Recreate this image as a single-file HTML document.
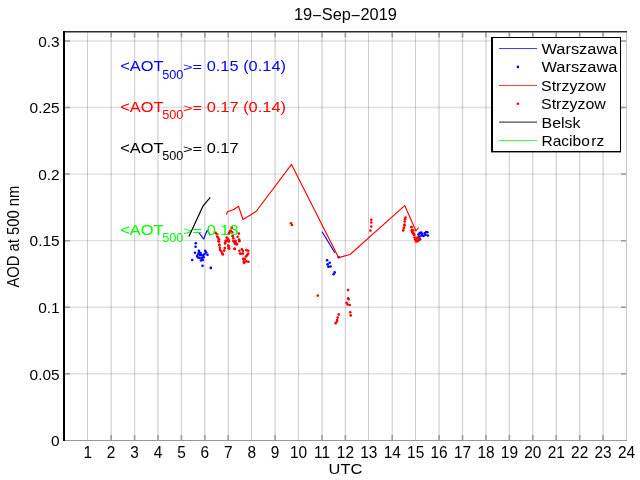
<!DOCTYPE html><html><head><meta charset="utf-8"><style>html,body{margin:0;padding:0;background:#fff;width:640px;height:480px;overflow:hidden}svg{display:block;will-change:transform}text{font-family:"Liberation Sans",sans-serif}</style></head><body>
<svg width="640" height="480" viewBox="0 0 640 480">
<rect width="640" height="480" fill="#fff"/>
<path d="M111.15 32.5V440 M134.57 32.5V440 M158.00 32.5V440 M181.43 32.5V440 M204.85 32.5V440 M228.27 32.5V440 M275.12 32.5V440 M321.98 32.5V440 M345.40 32.5V440 M392.25 32.5V440 M439.10 32.5V440 M462.53 32.5V440 M485.95 32.5V440 M509.38 32.5V440 M532.80 32.5V440 M556.23 32.5V440 M579.65 32.5V440 M603.07 32.5V440" stroke="rgba(0,0,0,0.16)" stroke-width="1.4" fill="none"/>
<rect x="87" y="32" width="1" height="408" fill="rgba(0,0,0,0.2)"/><rect x="251" y="32" width="1" height="408" fill="rgba(0,0,0,0.2)"/><rect x="298" y="32" width="1" height="408" fill="rgba(0,0,0,0.2)"/><rect x="368" y="32" width="1" height="408" fill="rgba(0,0,0,0.2)"/><rect x="415" y="32" width="1" height="408" fill="rgba(0,0,0,0.2)"/>
<path d="M65 373.75H626 M65 307.20H626 M65 240.65H626 M65 174.10H626 M65 107.55H626 M65 41.00H626" stroke="rgba(0,0,0,0.125)" stroke-width="1.4" fill="none"/>
<path d="M111.15 435V440 M111.15 32.5V37.5 M134.57 435V440 M134.57 32.5V37.5 M158.00 435V440 M158.00 32.5V37.5 M181.43 435V440 M181.43 32.5V37.5 M204.85 435V440 M204.85 32.5V37.5 M228.27 435V440 M228.27 32.5V37.5 M275.12 435V440 M275.12 32.5V37.5 M321.98 435V440 M321.98 32.5V37.5 M345.40 435V440 M345.40 32.5V37.5 M392.25 435V440 M392.25 32.5V37.5 M439.10 435V440 M439.10 32.5V37.5 M462.53 435V440 M462.53 32.5V37.5 M485.95 435V440 M485.95 32.5V37.5 M509.38 435V440 M509.38 32.5V37.5 M532.80 435V440 M532.80 32.5V37.5 M556.23 435V440 M556.23 32.5V37.5 M579.65 435V440 M579.65 32.5V37.5 M603.07 435V440 M603.07 32.5V37.5 M65 373.75H70 M621 373.75H626 M65 307.20H70 M621 307.20H626 M65 240.65H70 M621 240.65H626 M65 174.10H70 M621 174.10H626 M65 107.55H70 M621 107.55H626 M65 41.00H70 M621 41.00H626" stroke="#9a9a9a" stroke-width="1.5" fill="none"/>
<rect x="65" y="440" width="562" height="1" fill="#999"/>
<rect x="626" y="32" width="1" height="408" fill="#c4c4c4"/>
<path d="M63 31.75H627" stroke="#2e2e2e" stroke-width="1.5"/>
<rect x="63" y="31" width="2" height="410" fill="#000"/>
<g font-size="16" fill="#000"><text transform="translate(87.72 458.00) scale(0.965 0.98)" font-size="16" text-anchor="middle">1</text><text transform="translate(111.15 458.00) scale(0.965 0.98)" font-size="16" text-anchor="middle">2</text><text transform="translate(134.57 458.00) scale(0.965 0.98)" font-size="16" text-anchor="middle">3</text><text transform="translate(158.00 458.00) scale(0.965 0.98)" font-size="16" text-anchor="middle">4</text><text transform="translate(181.43 458.00) scale(0.965 0.98)" font-size="16" text-anchor="middle">5</text><text transform="translate(204.85 458.00) scale(0.965 0.98)" font-size="16" text-anchor="middle">6</text><text transform="translate(228.27 458.00) scale(0.965 0.98)" font-size="16" text-anchor="middle">7</text><text transform="translate(251.70 458.00) scale(0.965 0.98)" font-size="16" text-anchor="middle">8</text><text transform="translate(275.12 458.00) scale(0.965 0.98)" font-size="16" text-anchor="middle">9</text><text transform="translate(298.55 458.00) scale(0.965 0.98)" font-size="16" text-anchor="middle">10</text><text transform="translate(321.98 458.00) scale(0.965 0.98)" font-size="16" text-anchor="middle">11</text><text transform="translate(345.40 458.00) scale(0.965 0.98)" font-size="16" text-anchor="middle">12</text><text transform="translate(368.83 458.00) scale(0.965 0.98)" font-size="16" text-anchor="middle">13</text><text transform="translate(392.25 458.00) scale(0.965 0.98)" font-size="16" text-anchor="middle">14</text><text transform="translate(415.68 458.00) scale(0.965 0.98)" font-size="16" text-anchor="middle">15</text><text transform="translate(439.10 458.00) scale(0.965 0.98)" font-size="16" text-anchor="middle">16</text><text transform="translate(462.53 458.00) scale(0.965 0.98)" font-size="16" text-anchor="middle">17</text><text transform="translate(485.95 458.00) scale(0.965 0.98)" font-size="16" text-anchor="middle">18</text><text transform="translate(509.38 458.00) scale(0.965 0.98)" font-size="16" text-anchor="middle">19</text><text transform="translate(532.80 458.00) scale(0.965 0.98)" font-size="16" text-anchor="middle">20</text><text transform="translate(556.23 458.00) scale(0.965 0.98)" font-size="16" text-anchor="middle">21</text><text transform="translate(579.65 458.00) scale(0.965 0.98)" font-size="16" text-anchor="middle">22</text><text transform="translate(603.07 458.00) scale(0.965 0.98)" font-size="16" text-anchor="middle">23</text><text transform="translate(626.50 458.00) scale(0.965 0.98)" font-size="16" text-anchor="middle">24</text><text transform="translate(59.60 446.05) scale(0.965 0.96)" font-size="16" text-anchor="end">0</text><text transform="translate(59.60 379.50) scale(0.965 0.96)" font-size="16" text-anchor="end">0.05</text><text transform="translate(59.60 312.95) scale(0.965 0.96)" font-size="16" text-anchor="end">0.1</text><text transform="translate(59.60 246.40) scale(0.965 0.96)" font-size="16" text-anchor="end">0.15</text><text transform="translate(59.60 179.85) scale(0.965 0.96)" font-size="16" text-anchor="end">0.2</text><text transform="translate(59.60 113.30) scale(0.965 0.96)" font-size="16" text-anchor="end">0.25</text><text transform="translate(59.60 46.75) scale(0.965 0.96)" font-size="16" text-anchor="end">0.3</text></g>
<text transform="translate(345.40 20.00) scale(1.025 1.0)" font-size="16" text-anchor="middle">19<tspan dy="1.1">−</tspan><tspan dy="-1.1">Sep</tspan><tspan dy="1.1">−</tspan><tspan dy="-1.1">2019</tspan></text>
<text transform="translate(345.40 474.00) scale(1.025 0.95)" font-size="16" text-anchor="middle">UTC</text>
<text transform="translate(18.9 236.6) rotate(-90) scale(0.925 1.06)" font-size="16" text-anchor="middle">AOD at 500 nm</text>
<path d="M199.20 233.20 L203.60 239.00 L207.20 230.30 L210.40 235.30 M322.10 231.70 L335.00 253.00" stroke="#0000ff" stroke-width="1.15" fill="none" stroke-linejoin="round"/>
<g fill="#0000ff"><circle cx="195.80" cy="243.20" r="1.32"/><circle cx="195.60" cy="246.70" r="1.32"/><circle cx="195.00" cy="252.80" r="1.32"/><circle cx="198.90" cy="250.90" r="1.32"/><circle cx="197.10" cy="255.90" r="1.32"/><circle cx="198.40" cy="254.00" r="1.32"/><circle cx="200.00" cy="255.10" r="1.32"/><circle cx="199.70" cy="258.00" r="1.32"/><circle cx="201.50" cy="255.10" r="1.32"/><circle cx="203.10" cy="255.60" r="1.32"/><circle cx="203.60" cy="257.20" r="1.32"/><circle cx="202.80" cy="260.00" r="1.32"/><circle cx="205.20" cy="250.70" r="1.32"/><circle cx="206.20" cy="252.50" r="1.32"/><circle cx="207.50" cy="254.80" r="1.32"/><circle cx="200.50" cy="253.00" r="1.32"/><circle cx="202.00" cy="258.00" r="1.32"/><circle cx="198.00" cy="257.50" r="1.32"/><circle cx="204.50" cy="254.00" r="1.32"/><circle cx="201.00" cy="260.50" r="1.32"/><circle cx="199.00" cy="252.50" r="1.32"/><circle cx="192.20" cy="260.00" r="1.32"/><circle cx="202.50" cy="265.70" r="1.32"/><circle cx="210.80" cy="267.90" r="1.32"/><circle cx="327.10" cy="260.20" r="1.32"/><circle cx="329.70" cy="262.80" r="1.32"/><circle cx="327.60" cy="264.40" r="1.32"/><circle cx="328.40" cy="266.70" r="1.32"/><circle cx="330.50" cy="266.50" r="1.32"/><circle cx="334.70" cy="272.40" r="1.32"/><circle cx="333.60" cy="274.30" r="1.32"/><circle cx="338.70" cy="257.20" r="1.32"/><circle cx="418.50" cy="234.60" r="1.32"/><circle cx="419.70" cy="233.10" r="1.32"/><circle cx="421.20" cy="232.50" r="1.32"/><circle cx="422.00" cy="234.00" r="1.32"/><circle cx="423.50" cy="236.00" r="1.32"/><circle cx="424.70" cy="233.40" r="1.32"/><circle cx="426.10" cy="232.00" r="1.32"/><circle cx="427.30" cy="232.30" r="1.32"/><circle cx="427.90" cy="235.50" r="1.32"/><circle cx="419.40" cy="236.90" r="1.32"/><circle cx="420.00" cy="239.30" r="1.32"/><circle cx="421.50" cy="235.50" r="1.32"/><circle cx="425.50" cy="235.00" r="1.32"/></g>
<path d="M226.40 214.50 L227.50 211.75 L234.25 209.25 L238.50 206.25 L243.00 219.50 L251.70 214.30 L256.25 211.25 L291.50 164.40 L338.60 257.60 L350.00 254.50 L404.70 205.60 L416.00 231.00 L418.70 227.50" stroke="#ff0000" stroke-width="1.15" fill="none" stroke-linejoin="round"/>
<g fill="#ff0000"><circle cx="215.70" cy="232.90" r="1.32"/><circle cx="216.80" cy="234.00" r="1.32"/><circle cx="217.30" cy="236.60" r="1.32"/><circle cx="218.00" cy="237.60" r="1.32"/><circle cx="218.90" cy="239.20" r="1.32"/><circle cx="218.90" cy="241.50" r="1.32"/><circle cx="219.40" cy="244.90" r="1.32"/><circle cx="218.60" cy="241.25" r="1.32"/><circle cx="219.20" cy="245.00" r="1.32"/><circle cx="219.80" cy="247.80" r="1.32"/><circle cx="220.10" cy="250.00" r="1.32"/><circle cx="221.40" cy="251.60" r="1.32"/><circle cx="222.30" cy="253.40" r="1.32"/><circle cx="222.90" cy="254.40" r="1.32"/><circle cx="224.20" cy="250.60" r="1.32"/><circle cx="224.80" cy="248.10" r="1.32"/><circle cx="225.10" cy="243.40" r="1.32"/><circle cx="226.70" cy="237.60" r="1.32"/><circle cx="228.20" cy="239.70" r="1.32"/><circle cx="225.60" cy="240.75" r="1.32"/><circle cx="225.10" cy="242.80" r="1.32"/><circle cx="228.20" cy="246.00" r="1.32"/><circle cx="229.30" cy="232.90" r="1.32"/><circle cx="230.80" cy="231.10" r="1.32"/><circle cx="231.90" cy="228.00" r="1.32"/><circle cx="232.90" cy="236.00" r="1.32"/><circle cx="231.90" cy="227.90" r="1.32"/><circle cx="230.40" cy="230.75" r="1.32"/><circle cx="229.40" cy="232.90" r="1.32"/><circle cx="228.80" cy="233.60" r="1.32"/><circle cx="232.25" cy="232.30" r="1.32"/><circle cx="232.60" cy="236.00" r="1.32"/><circle cx="233.20" cy="238.25" r="1.32"/><circle cx="233.80" cy="241.40" r="1.32"/><circle cx="235.40" cy="240.75" r="1.32"/><circle cx="234.75" cy="243.60" r="1.32"/><circle cx="236.30" cy="243.90" r="1.32"/><circle cx="234.75" cy="248.90" r="1.32"/><circle cx="238.80" cy="233.60" r="1.32"/><circle cx="237.60" cy="236.70" r="1.32"/><circle cx="239.10" cy="239.50" r="1.32"/><circle cx="239.40" cy="241.10" r="1.32"/><circle cx="227.25" cy="238.25" r="1.32"/><circle cx="227.25" cy="240.75" r="1.32"/><circle cx="228.50" cy="240.10" r="1.32"/><circle cx="228.20" cy="245.75" r="1.32"/><circle cx="228.80" cy="248.25" r="1.32"/><circle cx="228.25" cy="245.90" r="1.32"/><circle cx="228.90" cy="248.40" r="1.32"/><circle cx="227.00" cy="241.00" r="1.32"/><circle cx="229.00" cy="241.50" r="1.32"/><circle cx="233.50" cy="241.00" r="1.32"/><circle cx="235.50" cy="242.50" r="1.32"/><circle cx="237.00" cy="244.00" r="1.32"/><circle cx="234.50" cy="248.75" r="1.32"/><circle cx="239.20" cy="241.00" r="1.32"/><circle cx="240.90" cy="253.80" r="1.32"/><circle cx="236.90" cy="244.20" r="1.32"/><circle cx="239.40" cy="250.75" r="1.32"/><circle cx="241.90" cy="249.20" r="1.32"/><circle cx="242.90" cy="251.00" r="1.32"/><circle cx="240.00" cy="253.60" r="1.32"/><circle cx="242.90" cy="253.60" r="1.32"/><circle cx="246.30" cy="250.10" r="1.32"/><circle cx="248.20" cy="250.75" r="1.32"/><circle cx="248.20" cy="253.60" r="1.32"/><circle cx="247.25" cy="255.10" r="1.32"/><circle cx="246.00" cy="256.40" r="1.32"/><circle cx="243.20" cy="258.90" r="1.32"/><circle cx="244.75" cy="258.90" r="1.32"/><circle cx="243.80" cy="261.40" r="1.32"/><circle cx="244.10" cy="262.90" r="1.32"/><circle cx="246.30" cy="261.40" r="1.32"/><circle cx="248.50" cy="261.70" r="1.32"/><circle cx="291.00" cy="223.20" r="1.32"/><circle cx="292.00" cy="225.00" r="1.32"/><circle cx="317.80" cy="295.60" r="1.32"/><circle cx="348.10" cy="290.10" r="1.32"/><circle cx="348.10" cy="298.20" r="1.32"/><circle cx="348.60" cy="299.30" r="1.32"/><circle cx="346.60" cy="302.90" r="1.32"/><circle cx="347.60" cy="304.50" r="1.32"/><circle cx="349.70" cy="305.00" r="1.32"/><circle cx="350.20" cy="312.30" r="1.32"/><circle cx="350.70" cy="315.40" r="1.32"/><circle cx="338.75" cy="314.40" r="1.32"/><circle cx="337.70" cy="317.50" r="1.32"/><circle cx="337.20" cy="320.10" r="1.32"/><circle cx="336.70" cy="321.70" r="1.32"/><circle cx="335.60" cy="323.20" r="1.32"/><circle cx="371.25" cy="219.75" r="1.32"/><circle cx="371.25" cy="222.50" r="1.32"/><circle cx="371.25" cy="226.50" r="1.32"/><circle cx="370.40" cy="230.60" r="1.32"/><circle cx="405.50" cy="217.60" r="1.32"/><circle cx="405.00" cy="219.20" r="1.32"/><circle cx="404.70" cy="221.50" r="1.32"/><circle cx="404.50" cy="224.50" r="1.32"/><circle cx="404.40" cy="225.80" r="1.32"/><circle cx="403.80" cy="228.10" r="1.32"/><circle cx="403.20" cy="230.40" r="1.32"/><circle cx="411.30" cy="227.00" r="1.32"/><circle cx="411.60" cy="227.20" r="1.32"/><circle cx="412.00" cy="230.40" r="1.32"/><circle cx="412.50" cy="232.30" r="1.32"/><circle cx="413.50" cy="233.70" r="1.32"/><circle cx="411.80" cy="230.80" r="1.32"/><circle cx="413.30" cy="230.20" r="1.32"/><circle cx="412.40" cy="232.50" r="1.32"/><circle cx="413.60" cy="233.70" r="1.32"/><circle cx="414.20" cy="234.90" r="1.32"/><circle cx="414.50" cy="237.50" r="1.32"/><circle cx="416.00" cy="238.00" r="1.32"/><circle cx="417.50" cy="237.50" r="1.32"/><circle cx="419.00" cy="238.50" r="1.32"/><circle cx="415.00" cy="239.50" r="1.32"/><circle cx="416.50" cy="240.00" r="1.32"/><circle cx="418.00" cy="240.50" r="1.32"/><circle cx="419.50" cy="240.00" r="1.32"/><circle cx="416.00" cy="241.50" r="1.32"/><circle cx="417.50" cy="241.20" r="1.32"/></g>
<rect x="258" y="265.5" width="1" height="1" fill="#7fff7f"/>
<text transform="translate(120.30 71.00) scale(1.025 0.95)" font-size="16" fill="#0000ff">&lt;AOT</text><text transform="translate(162.20 78.80) scale(1.06 1.0)" font-size="12" fill="#0000ff">500</text><text transform="translate(182.90 71.40) scale(1.025 0.72)" font-size="16" fill="#0000ff">&gt;=</text><text transform="translate(206.70 71.00) scale(1.025 0.95)" font-size="16" fill="#0000ff">0.15 (0.14)</text>
<text transform="translate(120.30 112.00) scale(1.025 0.95)" font-size="16" fill="#ff0000">&lt;AOT</text><text transform="translate(162.20 119.20) scale(1.06 1.0)" font-size="12" fill="#ff0000">500</text><text transform="translate(182.90 112.40) scale(1.025 0.72)" font-size="16" fill="#ff0000">&gt;=</text><text transform="translate(206.70 112.00) scale(1.025 0.95)" font-size="16" fill="#ff0000">0.17 (0.14)</text>
<text transform="translate(120.30 153.00) scale(1.025 0.95)" font-size="16">&lt;AOT</text><text transform="translate(162.20 160.20) scale(1.06 1.0)" font-size="12">500</text><text transform="translate(182.90 153.40) scale(1.025 0.72)" font-size="16">&gt;=</text><text transform="translate(206.70 153.00) scale(1.025 0.95)" font-size="16">0.17</text>
<text transform="translate(120.30 235.00) scale(1.025 0.95)" font-size="16" fill="#00ff00">&lt;AOT</text><text transform="translate(162.20 242.20) scale(1.06 1.0)" font-size="12" fill="#00ff00">500</text><text transform="translate(182.90 235.40) scale(1.025 0.72)" font-size="16" fill="#00ff00">&gt;=</text><text transform="translate(206.70 235.00) scale(1.025 0.95)" font-size="16" fill="#00ff00">0.13</text>
<path d="M188.90 236.50 L203.10 205.90 L210.30 197.40" stroke="#000" stroke-width="1.15" fill="none"/>
<g><rect x="491" y="37" width="130" height="115" fill="#fff"/><rect x="491" y="37" width="2" height="115" fill="#000"/><rect x="620" y="37" width="1" height="115" fill="#000"/><rect x="491" y="37" width="130" height="1" fill="#000"/><rect x="491" y="151" width="130" height="1.4" fill="#000"/><path d="M499 48.50H537" stroke="#3c3cff" stroke-width="1"/><text transform="translate(541.50 54.00) scale(1.025 0.97)" font-size="16">Warszawa</text><circle cx="517.9" cy="66.90" r="1.32" fill="#0000ff"/><text transform="translate(541.50 72.00) scale(1.025 0.97)" font-size="16">Warszawa</text><path d="M499 85.50H537" stroke="#ff3c3c" stroke-width="1"/><text transform="translate(541.00 91.00) scale(1.0 0.97)" font-size="16">Strzyzow</text><circle cx="517.9" cy="103.80" r="1.32" fill="#ff0000"/><text transform="translate(541.00 109.00) scale(1.0 0.97)" font-size="16">Strzyzow</text><path d="M499 122.10H537" stroke="#222" stroke-width="1"/><text transform="translate(541.50 128.00) scale(0.997 0.97)" font-size="16">Belsk</text><path d="M499 140.50H537" stroke="#3cff3c" stroke-width="1"/><text transform="translate(541.50 146.00) scale(0.97 0.97)" font-size="16">Racibo<tspan dx="1.6">rz</tspan></text></g>
</svg></body></html>
